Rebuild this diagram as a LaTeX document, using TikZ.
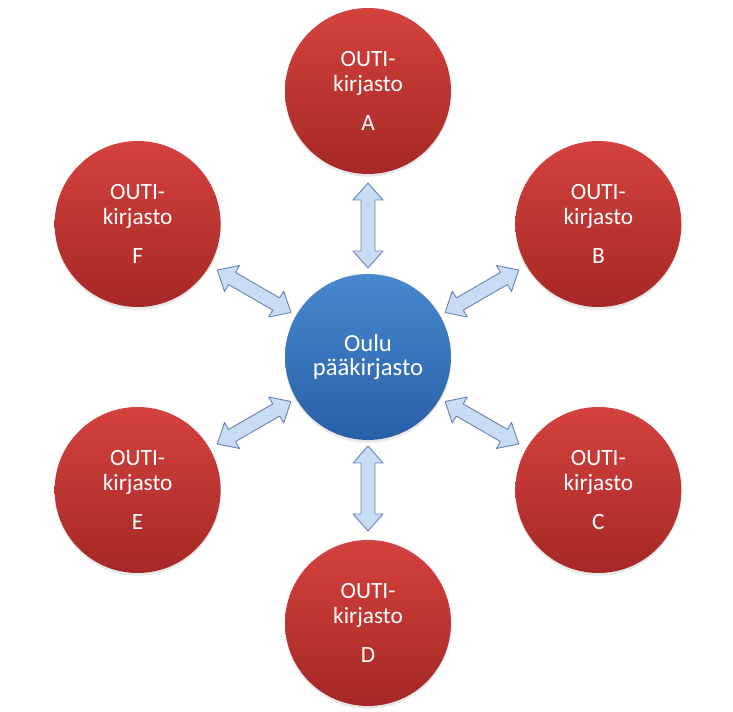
\documentclass[tikz,border=0pt]{standalone}
\usepackage{fontspec}
\setmainfont{Carlito}
\usetikzlibrary{calc,shadows}
\definecolor{redtop}{RGB}{212,66,62}
\definecolor{redbot}{RGB}{166,40,38}
\definecolor{bluetop}{RGB}{72,136,206}
\definecolor{bluebot}{RGB}{40,96,168}
\definecolor{linkfill}{RGB}{202,220,243}
\definecolor{linkdraw}{RGB}{104,134,184}
\begin{document}
\begin{tikzpicture}[x=0.75pt, y=0.75pt,
  branch/.style={circle, minimum size=124.5pt, inner sep=0pt,
    top color=redtop, bottom color=redbot, text=white, align=center,
    font=\fontsize{17.5}{18.75}\selectfont,
    drop shadow={opacity=0.18, shadow xshift=0pt, shadow yshift=-2pt}},
  hubnode/.style={branch, top color=bluetop, bottom color=bluebot,
    font=\fontsize{18.5}{18}\selectfont},
  link/.style={fill=linkfill, draw=linkdraw, line width=0.7pt, line join=round}]
\fill[white] (0,0) rectangle (733,712);
\useasboundingbox (0,0) rectangle (733,712);
\node[hubnode] (hub) at (368,355) {Oulu\\pääkirjasto};
\foreach \name/\ang/\lab in {a/90/A, b/30/B, c/-30/C, d/-90/D, e/-150/E, f/150/F}{
  \node[branch] (\name) at ($(hub)+(\ang:266)$) {OUTI-\\kirjasto\\[10pt]\lab};
  \begin{scope}[shift={(hub.center)}, rotate=\ang]
    \draw[link] (89,0) -- (106,15) -- (106,7) -- (157,7) -- (157,15) -- (174,0)
      -- (157,-15) -- (157,-7) -- (106,-7) -- (106,-15) -- cycle;
  \end{scope}
}
\end{tikzpicture}
\end{document}
